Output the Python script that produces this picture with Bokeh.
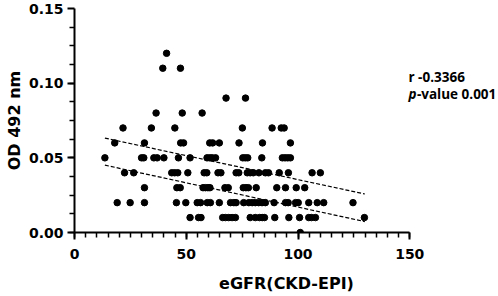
from bokeh.plotting import figure
from bokeh.models import Range1d, FixedTicker, NumeralTickFormatter, Label, ColumnDataSource
from bokeh.embed import file_html
from bokeh.resources import INLINE
import numpy as np

# ---- data ----
egfr = [41.2,
        39.5, 47.4,
        67.8, 76.5,
        36.5, 48.2, 57.1,
        21.7, 34.4, 44.9, 75.1, 88.4, 92.5, 93.8,
        18.0, 31.3, 47.5, 48.8, 60.5, 61.8, 64.8, 73.6, 84.1, 96.6,
        13.6, 30.0, 31.0, 35.5, 37.0, 40.0, 46.5, 51.7, 59.3, 60.5, 61.6, 63.1, 75.3, 76.4, 77.5, 83.8, 93.0, 94.2, 95.4, 96.6,
        22.4, 26.5, 43.5, 44.8, 46.2, 50.7, 58.0, 59.2, 64.2, 65.5, 72.3, 73.5, 77.3, 78.6, 80.0, 82.5, 85.4, 86.8, 91.6, 95.7, 106.3, 110.0,
        31.3, 45.8, 47.3, 57.5, 58.6, 59.7, 60.6, 67.3, 68.8, 75.5, 76.7, 77.8, 81.3, 90.5, 94.4, 99.2, 103.0,
        19.1, 24.9, 31.3, 45.6, 49.8, 54.9, 56.4, 59.4, 60.8, 64.8, 69.8, 71.3, 72.3, 75.7, 78.0, 79.5, 80.9, 82.4, 83.9, 85.4, 89.3, 94.4, 95.6, 98.9, 100.1, 104.8, 108.6, 111.5, 124.6,
        51.7, 55.5, 56.6, 66.3, 67.5, 69.0, 70.5, 72.0, 78.6, 80.9, 82.8, 84.0, 85.0, 89.6, 95.9, 100.7, 104.8, 106.0, 107.8, 129.7,
        101.0]
od = [0.12,
      0.11, 0.11,
      0.09, 0.09,
      0.08, 0.08, 0.08,
      0.07, 0.07, 0.07, 0.07, 0.07, 0.07, 0.07,
      0.06, 0.06, 0.06, 0.06, 0.06, 0.06, 0.06, 0.06, 0.06, 0.06,
      0.05, 0.05, 0.05, 0.05, 0.05, 0.05, 0.05, 0.05, 0.05, 0.05, 0.05, 0.05, 0.05, 0.05, 0.05, 0.05, 0.05, 0.05, 0.05, 0.05,
      0.04, 0.04, 0.04, 0.04, 0.04, 0.04, 0.04, 0.04, 0.04, 0.04, 0.04, 0.04, 0.04, 0.04, 0.04, 0.04, 0.04, 0.04, 0.04, 0.04, 0.04, 0.04,
      0.03, 0.03, 0.03, 0.03, 0.03, 0.03, 0.03, 0.03, 0.03, 0.03, 0.03, 0.03, 0.03, 0.03, 0.03, 0.03, 0.03,
      0.02, 0.02, 0.02, 0.02, 0.02, 0.02, 0.02, 0.02, 0.02, 0.02, 0.02, 0.02, 0.02, 0.02, 0.02, 0.02, 0.02, 0.02, 0.02, 0.02, 0.02, 0.02, 0.02, 0.02, 0.02, 0.02, 0.02, 0.02, 0.02,
      0.01, 0.01, 0.01, 0.01, 0.01, 0.01, 0.01, 0.01, 0.01, 0.01, 0.01, 0.01, 0.01, 0.01, 0.01, 0.01, 0.01, 0.01, 0.01, 0.01,
      0.00]

fit_x = [13.6, 129.9]
upper_band = [0.0632, 0.0258]
lower_band = [0.0451, 0.0073]

x_ticks = [0, 50, 100, 150]
y_ticks = [0.0, 0.05, 0.10, 0.15]

r_text = "r -0.3366"
p_text = "-value 0.001"

AXFONT = "DejaVu Sans"
NOTEFONT = "Open Sans"

# frame spans x 0..150 over 335 px; extended to the right so the note fits in the frame
p = figure(width=498, height=296, output_backend="svg", toolbar_location=None,
           x_range=Range1d(0, 189.7), y_range=Range1d(0, 0.15),
           min_border_left=74, min_border_right=0, min_border_top=8, min_border_bottom=64)
p.xgrid.visible = False
p.ygrid.visible = False
p.outline_line_color = None
p.background_fill_color = "white"

p.xaxis.ticker = FixedTicker(ticks=x_ticks, minor_ticks=list(np.arange(0, 151, 5)))
p.yaxis.ticker = FixedTicker(ticks=y_ticks, minor_ticks=list(np.arange(0, 0.1501, 0.0125)))
p.yaxis.formatter = NumeralTickFormatter(format="0.00")
p.xaxis.bounds = (0, 150)

for ax in (p.xaxis, p.yaxis):
    ax.axis_line_width = 2
    ax.axis_line_color = "black"
    ax.major_tick_line_width = 2
    ax.minor_tick_line_width = 1.5
    ax.major_tick_line_color = "black"
    ax.minor_tick_line_color = "black"
    ax.major_tick_out = 7
    ax.minor_tick_out = 5
    ax.major_tick_in = 0
    ax.minor_tick_in = 0
    ax.major_label_text_font = AXFONT
    ax.major_label_text_font_style = "bold"
    ax.major_label_text_font_size = "14px"
    ax.major_label_text_color = "black"
    ax.axis_label_text_font = AXFONT
    ax.axis_label_text_font_style = "bold"
    ax.axis_label_text_color = "black"

p.xaxis.axis_label_text_font_size = "16px"
p.yaxis.axis_label_text_font_size = "16px"
p.xaxis.major_label_standoff = 9
p.yaxis.major_label_standoff = 4
p.xaxis.axis_label = "eGFR(CKD-EPI)"
p.yaxis.axis_label = "OD 492 nm"
p.xaxis.axis_label_standoff = 12
p.yaxis.axis_label_standoff = 2

src = ColumnDataSource(data=dict(x=egfr, y=od))
p.scatter("x", "y", source=src, size=6.5, color="black")

p.line(fit_x, upper_band, line_dash="4 2", line_width=1.2, color="black")
p.line(fit_x, lower_band, line_dash="4 2", line_width=1.2, color="black")

p.add_layout(Label(x=149.4, y=0.104, text=r_text, text_font=NOTEFONT, text_font_style="bold",
                   text_font_size="13.5px", text_color="black", text_baseline="alphabetic"))
p.add_layout(Label(x=149.4, y=0.0926, text="p", text_font=NOTEFONT, text_font_style="bold italic",
                   text_font_size="13.5px", text_color="black", text_baseline="alphabetic"))
p.add_layout(Label(x=149.4, y=0.0926, x_offset=8.5, text=p_text, text_font=NOTEFONT, text_font_style="bold",
                   text_font_size="13.5px", text_color="black", text_baseline="alphabetic"))

open("out.html", "w").write(file_html(p, INLINE))
